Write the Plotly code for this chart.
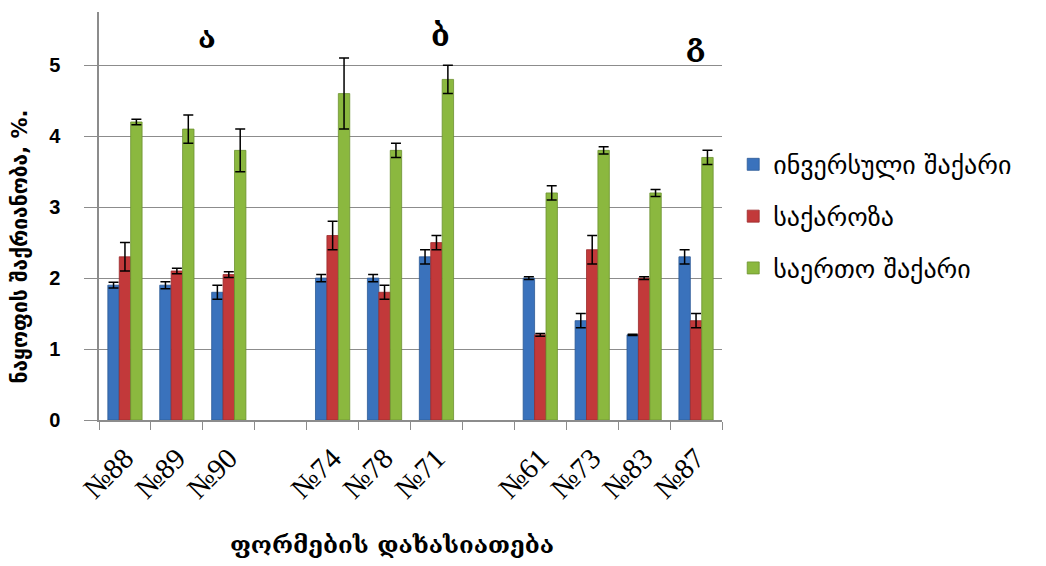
import plotly.graph_objects as go

categories = ["№88", "№89", "№90", " ", "№74", "№78", "№71", "  ", "№61", "№73", "№83", "№87"]
series_names = ["ინვერსული შაქარი", "საქაროზა", "საერთო შაქარი"]

invert = [1.9, 1.9, 1.8, None, 2.0, 2.0, 2.3, None, 2.0, 1.4, 1.2, 2.3]
invert_err = [0.04, 0.05, 0.1, None, 0.05, 0.05, 0.1, None, 0.02, 0.1, 0.01, 0.1]
sucrose = [2.3, 2.1, 2.05, None, 2.6, 1.8, 2.5, None, 1.2, 2.4, 2.0, 1.4]
sucrose_err = [0.2, 0.04, 0.04, None, 0.2, 0.1, 0.1, None, 0.02, 0.2, 0.02, 0.1]
total = [4.2, 4.1, 3.8, None, 4.6, 3.8, 4.8, None, 3.2, 3.8, 3.2, 3.7]
total_err = [0.04, 0.2, 0.3, None, 0.5, 0.1, 0.2, None, 0.1, 0.05, 0.05, 0.1]

x_title = "ფორმების დახასიათება"
y_title = "ნაყოფის შაქრიანობა, %."

colors = ["#3A72BC", "#C2393A", "#8BB83F"]
line_colors = ["#2C5A96", "#9A2B2C", "#6C9230"]

group_labels = ["ა", "ბ", "გ"]
group_label_x = ["№89", "№71", "№87"]
group_label_y = [5.39, 5.42, 5.29]
group_label_shift = [30, 4, -1]

fig = go.Figure()
for i, (vals, errs) in enumerate([(invert, invert_err), (sucrose, sucrose_err), (total, total_err)]):
    fig.add_trace(go.Bar(
        x=categories, y=vals, name=series_names[i],
        marker=dict(color=colors[i], line=dict(color=line_colors[i], width=0.8)),
        error_y=dict(type="data", array=errs, visible=True, color="black", thickness=1.5, width=5),
        legendgroup=f"g{i}",
    ))

for lab, xc, yv, sh in zip(group_labels, group_label_x, group_label_y, group_label_shift):
    fig.add_annotation(x=xc, y=yv, xref="x", yref="y", text=f"<b>{lab}</b>", showarrow=False,
                       xshift=sh, font=dict(family="DejaVu Serif", size=30, color="black"))

# axis titles as annotations (placed like the reference)
fig.add_annotation(x=0.47, y=-0.306, xref="paper", yref="paper", text=f"<b>{x_title}</b>",
                   showarrow=False, xanchor="center", yanchor="middle",
                   font=dict(family="DejaVu Serif", size=24, color="black"))
fig.add_annotation(x=-0.127, y=0.425, xref="paper", yref="paper", text=f"<b>{y_title}</b>",
                   showarrow=False, xanchor="center", yanchor="middle", textangle=-90,
                   font=dict(family="DejaVu Sans", size=21, color="black"))

fig.update_layout(
    width=1046, height=566,
    paper_bgcolor="white", plot_bgcolor="white",
    margin=dict(l=91, r=332, t=4, b=154),
    barmode="group", bargap=0.34, bargroupgap=0,
    showlegend=True,
    legend=dict(x=1.018, y=0.684, xanchor="left", yanchor="top",
                traceorder="grouped", tracegroupgap=15,
                font=dict(family="DejaVu Sans", size=26, color="black"),
                itemwidth=30),
    xaxis=dict(
        type="category", categoryorder="array", categoryarray=categories,
        showline=True, linecolor="#8C8C8C", linewidth=1.5,
        ticks="outside", tickson="boundaries", ticklen=8, tickcolor="#8C8C8C",
        tickangle=-45, showgrid=False, automargin=False,
        ticklabelstandoff=8,
        tickfont=dict(family="Liberation Serif", size=29, color="black"),
    ),
    yaxis=dict(
        range=[0, 5.75], tickvals=[0, 1, 2, 3, 4, 5],
        showline=True, linecolor="#8C8C8C", linewidth=1.5,
        ticks="outside", ticklen=13, tickcolor="#8C8C8C",
        showgrid=True, gridcolor="#8C8C8C", gridwidth=1.2,
        zeroline=False, automargin=False, ticklabelstandoff=20,
        tickfont=dict(family="Liberation Sans", size=20, color="black", weight="bold"),
    ),
)

fig.write_html("out.html")
